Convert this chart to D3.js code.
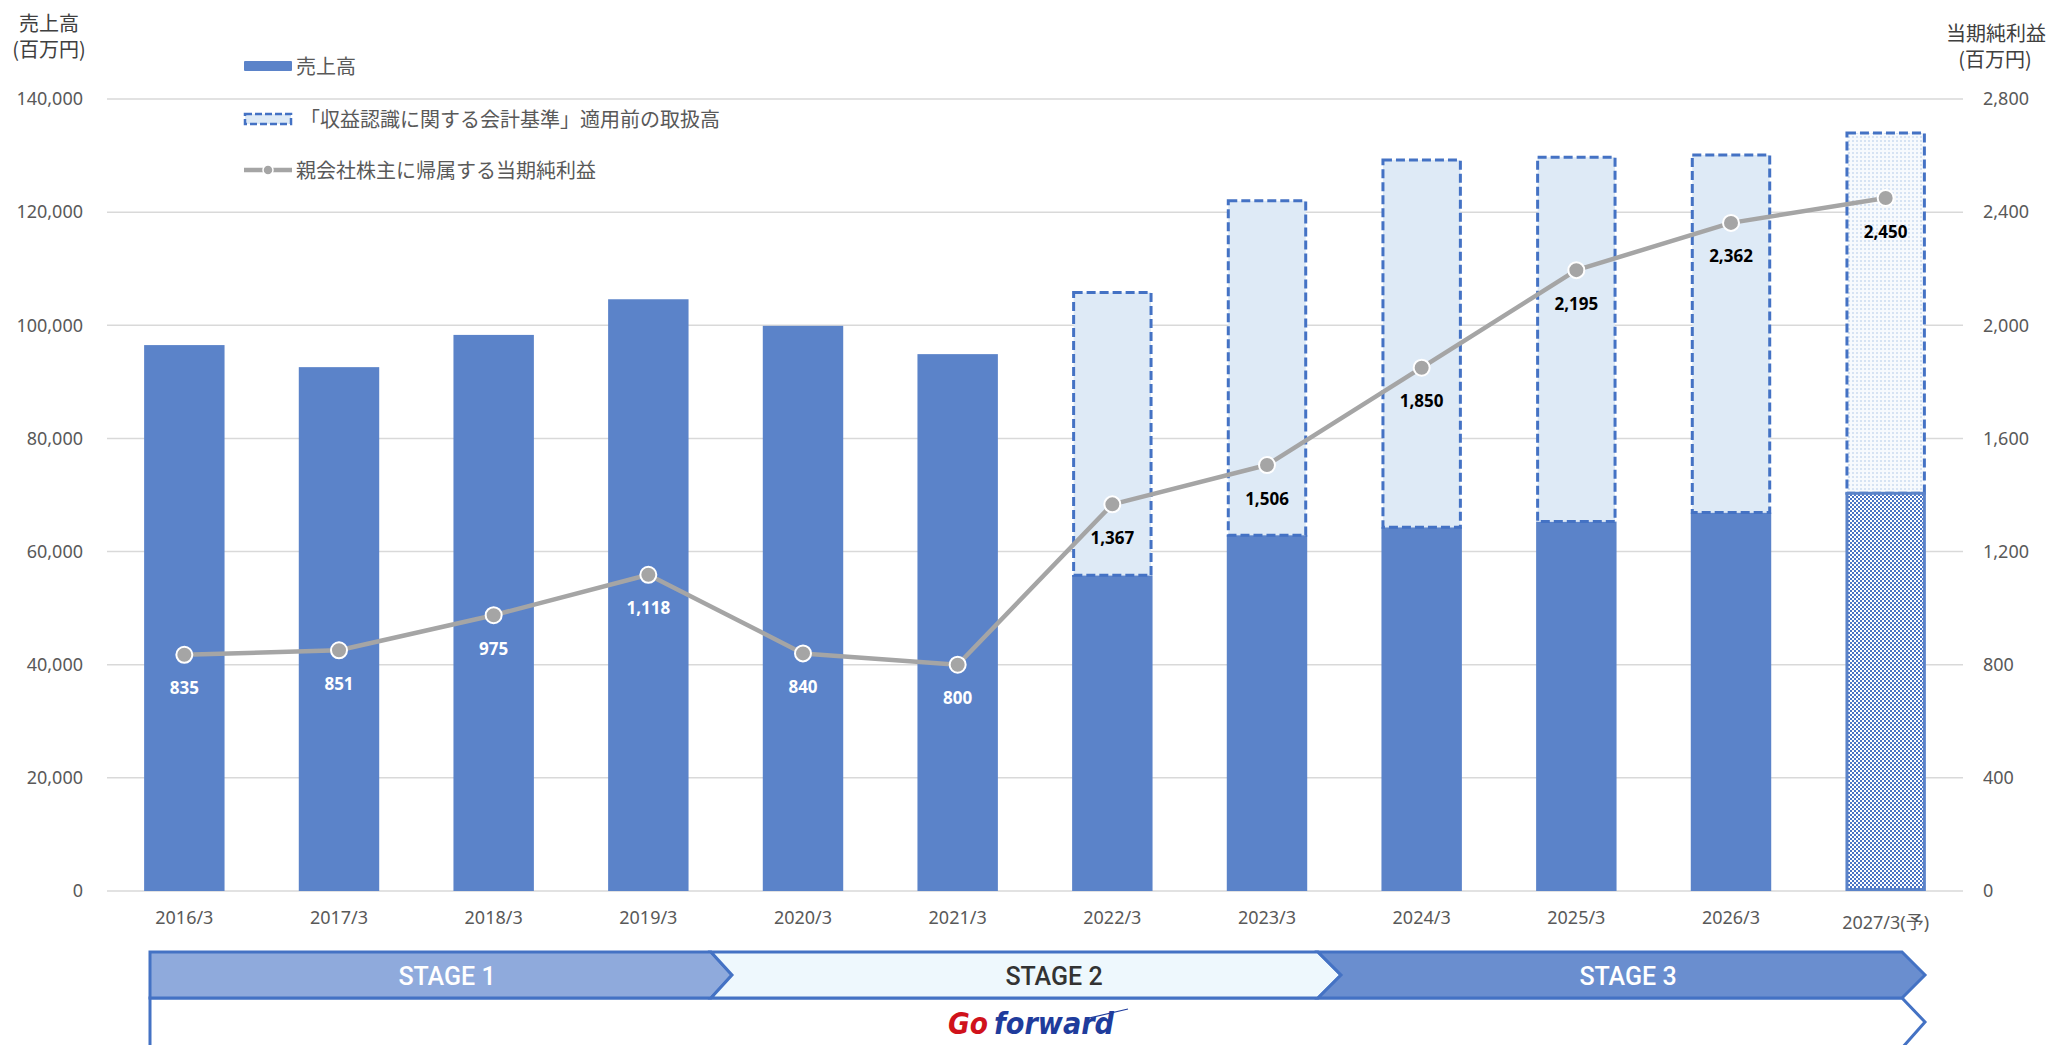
<!DOCTYPE html>
<html><head><meta charset="utf-8">
<script src="https://cdn.jsdelivr.net/npm/d3@7"></script>
<style>body{margin:0;background:#fff}svg{display:block}</style>
</head><body>
<svg id="c" width="2051" height="1045"></svg>
<script>
const categories = ["2016/3","2017/3","2018/3","2019/3","2020/3","2021/3","2022/3","2023/3","2024/3","2025/3","2026/3","2027/3(予)"];
const sales = [96500, 92600, 98300, 104600, 99900, 94900, 55800, 62900, 64300, 65300, 66900, 70300];
const grossTotal = [null, null, null, null, null, null, 105800, 122000, 129200, 129700, 130100, 134000];
const netIncome = [835, 851, 975, 1118, 840, 800, 1367, 1506, 1850, 2195, 2362, 2450];
const leftTicks = [0, 20000, 40000, 60000, 80000, 100000, 120000, 140000];
const rightTicks = [0, 400, 800, 1200, 1600, 2000, 2400, 2800];
const legendLabels = ["売上高", "「収益認識に関する会計基準」適用前の取扱高", "親会社株主に帰属する当期純利益"];
const stages = ["STAGE 1", "STAGE 2", "STAGE 3"];
const logoWords = ["Go", "forward"];

const svg = d3.select("#c");
const plotL = 107, plotR = 1963, plotT = 99, plotB = 891;
const NUM = "'Noto Sans', 'Noto Sans CJK JP', sans-serif";
const CJK = "'Noto Sans CJK JP', 'Noto Sans', sans-serif";
const BLUE = "#5B83C9", EDGE = "#4472C4", LIGHT = "#DEEAF6", GRAY = "#A5A5A5", TXT = "#595959";

const x = d3.scaleBand().domain(categories).range([plotL, plotR]).paddingInner(0.48).paddingOuter(0.24);
const y = d3.scaleLinear().domain([0, 140000]).range([plotB, plotT]);
const y2 = d3.scaleLinear().domain([0, 2800]).range([plotB, plotT]);

// patterns
const defs = svg.append("defs");
const chk = defs.append("pattern").attr("id","chk").attr("patternUnits","userSpaceOnUse").attr("width",4).attr("height",4);
chk.append("rect").attr("width",4).attr("height",4).attr("fill","#ffffff");
chk.append("rect").attr("width",2).attr("height",2).attr("fill","#4a74c4");
chk.append("rect").attr("x",2).attr("y",2).attr("width",2).attr("height",2).attr("fill","#4a74c4");
const dots = defs.append("pattern").attr("id","dots").attr("patternUnits","userSpaceOnUse").attr("width",4).attr("height",4);
dots.append("rect").attr("width",4).attr("height",4).attr("fill","#f7fafd");
dots.append("rect").attr("width",2).attr("height",2).attr("fill","#d6e3f3");

// gridlines
svg.append("g").selectAll("line").data(leftTicks).join("line")
  .attr("x1", plotL).attr("x2", plotR).attr("y1", d => y(d)).attr("y2", d => y(d))
  .attr("stroke", "#D9D9D9").attr("stroke-width", 1.5);

// left axis
const gL = svg.append("g").attr("transform", `translate(${plotL},0)`)
  .call(d3.axisLeft(y).tickValues(leftTicks).tickSize(0).tickPadding(24).tickFormat(d3.format(",")));
gL.select(".domain").remove();
gL.selectAll("text").attr("font-family", NUM).attr("font-size", 18).attr("fill", TXT);

// right axis
const gR = svg.append("g").attr("transform", `translate(${plotR},0)`)
  .call(d3.axisRight(y2).tickValues(rightTicks).tickSize(0).tickPadding(20).tickFormat(d3.format(",")));
gR.select(".domain").remove();
gR.selectAll("text").attr("font-family", NUM).attr("font-size", 18).attr("fill", TXT);

// x axis
const gX = svg.append("g").attr("transform", `translate(0,${plotB})`)
  .call(d3.axisBottom(x).tickSize(0).tickPadding(20));
gX.select(".domain").remove();
gX.selectAll("text").attr("font-family", NUM).attr("font-size", 18).attr("fill", TXT);
gX.selectAll(".tick").filter(d => d === categories[11]).select("text").attr("dy", "1.0em");

const idx = categories.map((c, i) => i);
const last = categories.length - 1;

// solid bars
svg.append("g").selectAll("rect").data(idx.filter(i => i !== last)).join("rect")
  .attr("x", i => x(categories[i])).attr("width", x.bandwidth())
  .attr("y", i => y(sales[i])).attr("height", i => y(0) - y(sales[i]))
  .attr("fill", BLUE);

// dashed segments
svg.append("g").selectAll("rect").data(idx.filter(i => grossTotal[i] != null)).join("rect")
  .attr("x", i => x(categories[i]) + 1.5).attr("width", x.bandwidth() - 3)
  .attr("y", i => y(grossTotal[i])).attr("height", i => y(sales[i]) - y(grossTotal[i]))
  .attr("fill", i => i === last ? "url(#dots)" : LIGHT)
  .attr("stroke", EDGE).attr("stroke-width", 3).attr("stroke-dasharray", "9 4");

// forecast solid part (pattern)
svg.append("g").selectAll("rect").data([last]).join("rect")
  .attr("x", i => x(categories[i]) + 1.5).attr("width", x.bandwidth() - 3)
  .attr("y", i => y(sales[i])).attr("height", i => y(0) - y(sales[i]) - 1.5)
  .attr("fill", "url(#chk)").attr("stroke", BLUE).attr("stroke-width", 3);

// line
const cx = i => x(categories[i]) + x.bandwidth() / 2;
svg.append("path").datum(idx)
  .attr("d", d3.line().x(cx).y(i => y2(netIncome[i])))
  .attr("fill", "none").attr("stroke", GRAY).attr("stroke-width", 4.5).attr("stroke-linejoin", "round");
svg.append("g").selectAll("circle").data(idx).join("circle")
  .attr("cx", cx).attr("cy", i => y2(netIncome[i])).attr("r", 8)
  .attr("fill", GRAY).attr("stroke", "#fff").attr("stroke-width", 2);
svg.append("g").selectAll("text").data(idx).join("text")
  .attr("x", cx).attr("y", i => y2(netIncome[i]) + 33)
  .attr("text-anchor", "middle").attr("dominant-baseline", "central")
  .attr("font-family", NUM).attr("font-size", 17).attr("font-weight", "bold")
  .attr("fill", i => i < 6 ? "#ffffff" : "#000000")
  .text(i => d3.format(",")(netIncome[i]));

// axis titles
const t1 = svg.append("g").attr("font-family", CJK).attr("font-size", 20).attr("fill", "#404040").attr("text-anchor", "middle");
t1.append("text").attr("x", 49).attr("y", 22).attr("dominant-baseline", "central").text("売上高");
t1.append("text").attr("x", 49).attr("y", 48).attr("dominant-baseline", "central").text("(百万円)");
t1.append("text").attr("x", 1996).attr("y", 32).attr("dominant-baseline", "central").text("当期純利益");
t1.append("text").attr("x", 1995).attr("y", 58).attr("dominant-baseline", "central").text("(百万円)");

// legend
const lg = svg.append("g");
const ly = [66, 119, 170];
lg.append("rect").attr("x", 244).attr("y", ly[0] - 5).attr("width", 48).attr("height", 10).attr("rx", 1).attr("fill", BLUE);
lg.append("rect").attr("x", 245).attr("y", ly[1] - 5).attr("width", 46).attr("height", 10).attr("fill", LIGHT)
  .attr("stroke", EDGE).attr("stroke-width", 2.5).attr("stroke-dasharray", "7 3");
lg.append("line").attr("x1", 244).attr("x2", 292).attr("y1", ly[2]).attr("y2", ly[2]).attr("stroke", GRAY).attr("stroke-width", 4.5);
lg.append("circle").attr("cx", 268).attr("cy", ly[2]).attr("r", 5).attr("fill", GRAY).attr("stroke", "#fff").attr("stroke-width", 1.5);
lg.selectAll("text").data(legendLabels).join("text")
  .attr("x", (d, i) => i === 1 ? 300 : 296).attr("y", (d, i) => ly[i] - 1).attr("dominant-baseline", "central")
  .attr("font-family", CJK).attr("font-size", 20).attr("fill", TXT).text(d => d);

// stage banner
const sg = svg.append("g");
const T = 952, B = 998, M = 975;
const segs = [
  {pts: [[150,T],[711,T],[732,M],[711,B],[150,B]], fill: "#8FAADC", tx: 447, col: "#ffffff"},
  {pts: [[711,T],[1318,T],[1341,M],[1318,B],[711,B],[732,M]], fill: "#EEF8FD", tx: 1054, col: "#333333"},
  {pts: [[1318,T],[1902,T],[1925,M],[1902,B],[1318,B],[1341,M]], fill: "#6A8ECF", tx: 1628, col: "#ffffff"}
];
sg.append("path").attr("d", "M150,1050 L150,998 L1902,998 L1925,1022 L1902,1048")
  .attr("fill", "#fff").attr("stroke", EDGE).attr("stroke-width", 3);
sg.selectAll("polygon").data(segs).join("polygon")
  .attr("points", d => d.pts.map(p => p.join(",")).join(" "))
  .attr("fill", d => d.fill).attr("stroke", EDGE).attr("stroke-width", 3).attr("stroke-linejoin", "miter");
sg.selectAll("text").data(segs).join("text")
  .attr("x", d => d.tx).attr("y", M + 1).attr("text-anchor", "middle").attr("dominant-baseline", "central")
  .attr("font-family", "Roboto, sans-serif").attr("font-weight", 500).attr("font-size", 25)
  .attr("fill", d => d.col).text((d, i) => stages[i]);

// logo
const logo = svg.append("g").attr("font-family", "'DejaVu Sans Condensed','DejaVu Sans', sans-serif")
  .attr("font-weight", "bold").attr("font-style", "italic").attr("font-size", 31);
logo.append("text").attr("x", 948).attr("y", 1034).attr("textLength", 40).attr("lengthAdjust", "spacingAndGlyphs")
  .attr("fill", "#D0121B").text(logoWords[0]);
logo.append("text").attr("x", 994).attr("y", 1034).attr("textLength", 120).attr("lengthAdjust", "spacingAndGlyphs")
  .attr("fill", "#1F3C9C").text(logoWords[1]);
logo.append("line").attr("x1", 1085).attr("y1", 1019).attr("x2", 1128).attr("y2", 1009).attr("stroke", "#1F3C9C").attr("stroke-width", 1.2);
</script>
</body></html>
